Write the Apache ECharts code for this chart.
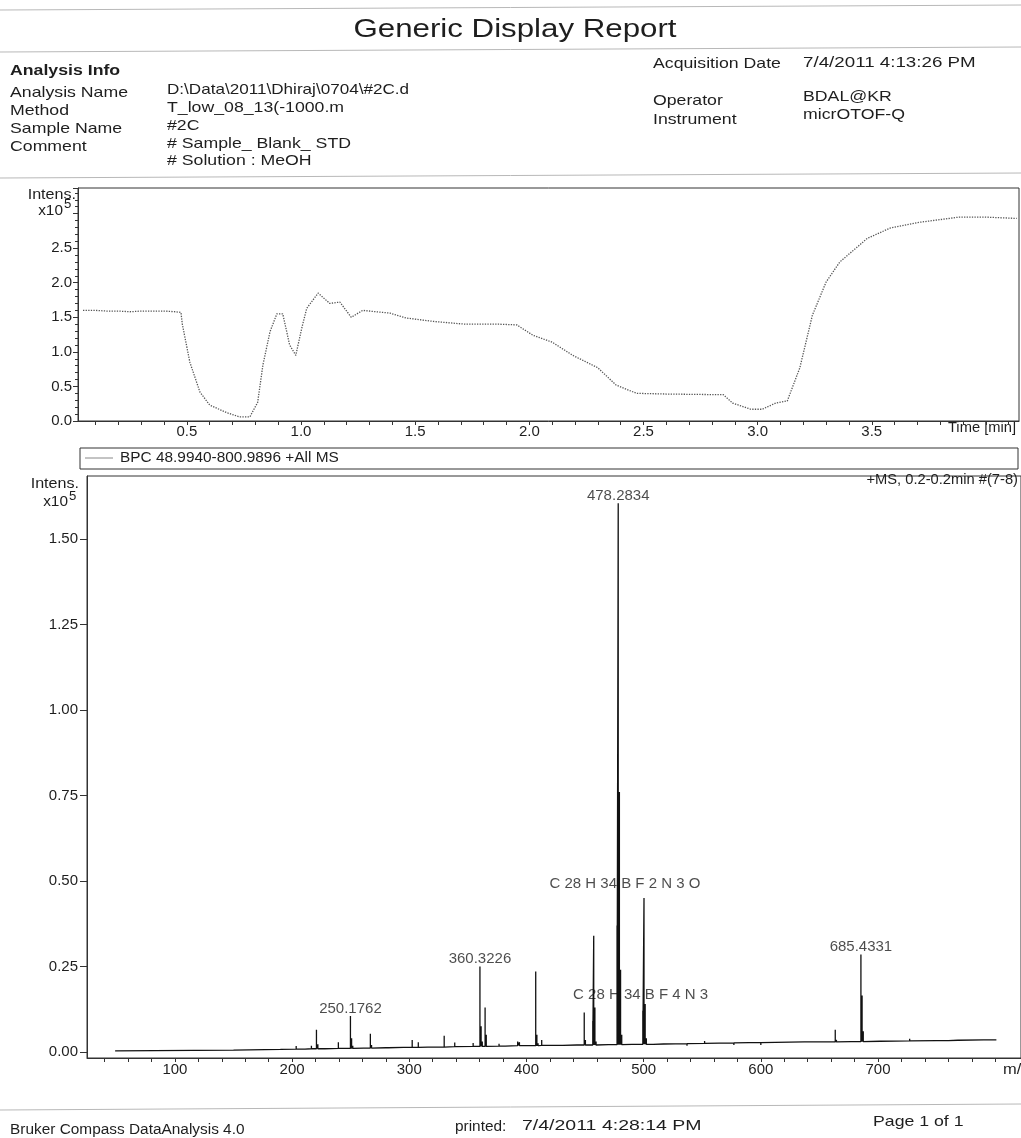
<!DOCTYPE html>
<html>
<head>
<meta charset="utf-8">
<title>Generic Display Report</title>
<script src="https://cdn.jsdelivr.net/npm/echarts@6/dist/echarts.min.js"></script>
<style>
html, body { margin: 0; padding: 0; background: #fff; }
#main { width: 1021px; height: 1138px; }
</style>
</head>
<body>
<div id="main"></div>
<script>
// BPC chromatogram: time [min] / intensity [x10^5]
var bpcTime = [0.045, 0.10, 0.15, 0.20, 0.25, 0.30, 0.35, 0.40, 0.45, 0.474, 0.48, 0.513, 0.557, 0.60, 0.675,
  0.73, 0.776, 0.81, 0.833, 0.864, 0.894, 0.92, 0.95, 0.977, 1.003, 1.025, 1.075, 1.126, 1.17, 1.22,
  1.27, 1.39, 1.46, 1.58, 1.72, 1.87, 1.945, 2.016, 2.10, 2.19, 2.30, 2.38, 2.47, 2.60, 2.85,
  2.89, 2.97, 3.02, 3.08, 3.13, 3.185, 3.24, 3.30, 3.36, 3.48, 3.58, 3.70, 3.885, 3.99, 4.135];
var bpcIntens = [1.60, 1.60, 1.59, 1.59, 1.58, 1.59, 1.59, 1.59, 1.58, 1.57, 1.40, 0.85, 0.42, 0.23, 0.12,
  0.06, 0.06, 0.27, 0.81, 1.29, 1.55, 1.55, 1.10, 0.95, 1.34, 1.63, 1.85, 1.70, 1.72, 1.50,
  1.60, 1.56, 1.49, 1.44, 1.40, 1.40, 1.39, 1.24, 1.14, 0.95, 0.77, 0.52, 0.40, 0.39, 0.38,
  0.26, 0.17, 0.17, 0.26, 0.29, 0.77, 1.53, 2.01, 2.30, 2.64, 2.79, 2.87, 2.95, 2.95, 2.93];

// mass spectrum sticks: m/z, top intensity, baseline level under the stick [x10^5]
var peakMz = [150, 190, 203.5, 207, 211, 216.5, 220.8, 222, 224, 228, 239.5, 244, 249.8, 250.8, 251.8,
  261, 266.8, 267.8, 280, 282, 295, 302.5, 307.7, 309, 316, 320, 326, 329.8, 338.8, 354.5,
  360.3, 361.3, 362.3, 364.7, 365.7, 376.6, 382, 392.5, 394, 407.9, 408.9, 409.9, 413, 422, 431,
  443, 449.3, 450.3, 456.6, 457.4, 458.4, 459.4, 470, 477.3, 478.3, 479.3, 480.3, 481.3, 490, 496,
  499.3, 500.3, 501.3, 502.3, 508, 517, 537, 552, 553, 577, 590, 600, 637, 639, 663.5, 664.5,
  677, 681, 685.4, 686.4, 687.4, 688.4, 702, 727, 750, 760, 768, 790];
var peakInt = [0.005, 0.007, 0.017, 0.012, 0.011, 0.018, 0.065, 0.022, 0.014, 0.013, 0.028, 0.013, 0.105, 0.040, 0.018,
  0.014, 0.053, 0.020, 0.013, 0.012, 0.014, 0.035, 0.028, 0.018, 0.016, 0.016, 0.018, 0.047, 0.027, 0.026,
  0.250, 0.075, 0.030, 0.130, 0.050, 0.024, 0.018, 0.030, 0.028, 0.235, 0.050, 0.025, 0.035, 0.020, 0.024,
  0.021, 0.115, 0.035, 0.090, 0.340, 0.130, 0.030, 0.022, 0.370, 1.605, 0.760, 0.240, 0.050, 0.024, 0.025,
  0.120, 0.450, 0.140, 0.040, 0.020, 0.018, 0.018, 0.032, 0.030, 0.020, 0.022, 0.020, 0.025, 0.025, 0.065, 0.035,
  0.030, 0.030, 0.285, 0.165, 0.060, 0.035, 0.034, 0.038, 0.037, 0.036, 0.036, 0.037];
var peakBase = [0.005, 0.007, 0.008, 0.008, 0.008, 0.009, 0.009, 0.009, 0.009, 0.009, 0.010, 0.010, 0.010, 0.010, 0.010,
  0.011, 0.011, 0.011, 0.012, 0.012, 0.013, 0.013, 0.013, 0.013, 0.014, 0.014, 0.014, 0.014, 0.015, 0.016,
  0.016, 0.016, 0.016, 0.016, 0.016, 0.017, 0.017, 0.018, 0.018, 0.018, 0.018, 0.018, 0.019, 0.019, 0.019,
  0.020, 0.020, 0.020, 0.020, 0.020, 0.020, 0.020, 0.021, 0.021, 0.021, 0.021, 0.021, 0.021, 0.022, 0.022,
  0.022, 0.022, 0.022, 0.022, 0.022, 0.023, 0.024, 0.025, 0.025, 0.026, 0.027, 0.027, 0.029, 0.029, 0.029, 0.029,
  0.030, 0.030, 0.030, 0.030, 0.030, 0.030, 0.031, 0.032, 0.033, 0.033, 0.034, 0.035];
var specStart = [49.0, 0.003];
var specEnd = [801.0, 0.035];

// peak annotations
var peakLabelMz = [478.3, 360.3, 249.8, 685.4];
var peakLabelInt = [1.605, 0.250, 0.105, 0.285];
var peakLabelText = ['478.2834', '360.3226', '250.1762', '685.4331'];
var formulaMz = [484, 497.4];
var formulaInt = [0.492, 0.167];
var formulaText = ['C 28 H 34 B F 2 N 3 O', 'C 28 H 34 B F 4 N 3'];

// axis ticks
var timeTicks = [0.1, 0.2, 0.3, 0.4, 0.5, 0.6, 0.7, 0.8, 0.9, 1.0, 1.1, 1.2, 1.3, 1.4, 1.5, 1.6, 1.7, 1.8, 1.9, 2.0,
  2.1, 2.2, 2.3, 2.4, 2.5, 2.6, 2.7, 2.8, 2.9, 3.0, 3.1, 3.2, 3.3, 3.4, 3.5, 3.6, 3.7, 3.8, 3.9, 4.0, 4.1];
var timeLabels = [0.5, 1.0, 1.5, 2.0, 2.5, 3.0, 3.5];
var mzTicks = [40, 60, 80, 100, 120, 140, 160, 180, 200, 220, 240, 260, 280, 300, 320, 340, 360, 380, 400,
  420, 440, 460, 480, 500, 520, 540, 560, 580, 600, 620, 640, 660, 680, 700, 720, 740, 760, 780, 800];
var mzLabels = [100, 200, 300, 400, 500, 600, 700];
var msLabels = [0.00, 0.25, 0.50, 0.75, 1.00, 1.25, 1.50];
var msMinorTicks = [0.05, 0.10, 0.15, 0.20, 0.30, 0.35, 0.40, 0.45, 0.55, 0.60, 0.65, 0.70, 0.80, 0.85, 0.90, 0.95,
  1.05, 1.10, 1.15, 1.20, 1.30, 1.35, 1.40, 1.45, 1.55, 1.60, 1.65];

var FONT = '"Liberation Sans", Arial, sans-serif';
var INK = '#1e1e1e';

var bpcData = bpcTime.map(function (t, i) { return [t, bpcIntens[i]]; });

var specData = [specStart];
peakMz.forEach(function (m, i) {
  specData.push([m, peakBase[i]]);
  specData.push([m, peakInt[i]]);
  specData.push([m, peakBase[i]]);
});
specData.push(specEnd);

var peakLabelData = peakLabelMz.map(function (m, i) { return [m, peakLabelInt[i], peakLabelText[i]]; });
var formulaData = formulaMz.map(function (m, i) { return [m, formulaInt[i], formulaText[i]]; });

function txt(x, y, s, size, opts) {
  opts = opts || {};
  return {
    type: 'text', x: x, y: y, scaleX: opts.sx || 1.18, silent: true,
    style: {
      text: s, fill: INK, textAlign: opts.align || 'left', textVerticalAlign: 'middle',
      font: (opts.bold ? 'bold ' : '') + size + 'px ' + FONT
    }
  };
}
function hline(x1, y1, x2, y2, color) {
  return { type: 'line', silent: true, shape: { x1: x1, y1: y1, x2: x2, y2: y2 },
    style: { stroke: color || '#b8b8b8', lineWidth: 1 } };
}

var myChart = echarts.init(document.getElementById('main'));

var axLine = { show: true, onZero: false, lineStyle: { color: '#333', width: 1 } };
var tickStyle = { color: '#333' };

myChart.setOption({
  animation: false,
  backgroundColor: '#fff',
  textStyle: { fontFamily: FONT },
  grid: [
    { left: 78, top: 188, width: 941, height: 233, show: true, borderColor: '#333', borderWidth: 1 },
    { left: 87, top: 476, width: 938, height: 582, show: true, borderColor: '#333', borderWidth: 1 }
  ],
  xAxis: [
    {
      type: 'value', gridIndex: 0, min: 0.023, max: 4.145,
      axisLine: axLine, splitLine: { show: false },
      axisTick: { show: true, length: 4, customValues: timeTicks, lineStyle: tickStyle },
      axisLabel: { color: INK, fontFamily: FONT, fontSize: 15, margin: 3, customValues: timeLabels,
        formatter: function (v) { return v.toFixed(1); } }
    },
    {
      type: 'value', gridIndex: 1, min: 25, max: 822,
      axisLine: axLine, splitLine: { show: false },
      axisTick: { show: true, length: 4, customValues: mzTicks, lineStyle: tickStyle },
      axisLabel: { color: INK, fontFamily: FONT, fontSize: 15, margin: 4, customValues: mzLabels }
    }
  ],
  yAxis: [
    {
      type: 'value', gridIndex: 0, min: 0, max: 3.37, interval: 0.5,
      axisLine: axLine, splitLine: { show: false },
      axisTick: { show: true, length: 5, lineStyle: tickStyle },
      minorTick: { show: true, splitNumber: 5, length: 3, lineStyle: tickStyle },
      axisLabel: { color: INK, fontFamily: FONT, fontSize: 15, margin: 6, showMaxLabel: false,
        formatter: function (v) { return v > 2.9 ? '' : v.toFixed(1); } }
    },
    {
      type: 'value', gridIndex: 1, min: -0.018, max: 1.685,
      axisLine: axLine, splitLine: { show: false },
      axisTick: { show: true, length: 7, customValues: msLabels, lineStyle: tickStyle },
      axisLabel: { color: INK, fontFamily: FONT, fontSize: 15, margin: 9, customValues: msLabels,
        formatter: function (v) { return v.toFixed(2); } }
    },
    {
      type: 'value', gridIndex: 1, min: -0.018, max: 1.685,
      axisLine: { show: false }, splitLine: { show: false },
      axisTick: { show: true, length: 3, customValues: msMinorTicks, lineStyle: tickStyle },
      axisLabel: { show: false }
    }
  ],
  series: [
    {
      name: 'BPC', type: 'line', xAxisIndex: 0, yAxisIndex: 0, data: bpcData,
      showSymbol: false, smooth: false,
      lineStyle: { color: '#555', width: 1.3, type: 'dotted' }
    },
    {
      name: '+MS', type: 'line', xAxisIndex: 1, yAxisIndex: 1, data: specData,
      showSymbol: false, lineStyle: { color: '#111', width: 1.3 }
    },
    {
      name: 'peak labels', type: 'scatter', xAxisIndex: 1, yAxisIndex: 1, data: peakLabelData,
      symbolSize: 0, itemStyle: { color: 'transparent' }, silent: true,
      label: { show: true, position: 'top', distance: 0, color: INK, fontFamily: FONT, fontSize: 15,
        formatter: function (p) { return p.value[2]; } }
    },
    {
      name: 'formula labels', type: 'scatter', xAxisIndex: 1, yAxisIndex: 1, data: formulaData,
      symbolSize: 0, itemStyle: { color: 'transparent' }, silent: true,
      label: { show: true, position: 'inside', color: INK, fontFamily: FONT, fontSize: 15,
        formatter: function (p) { return p.value[2]; } }
    }
  ],
  graphic: [
    hline(0, 10, 1021, 5),
    txt(515, 30, 'Generic Display Report', 25, { align: 'center', sx: 1.25 }),
    hline(0, 52, 1021, 47),
    txt(10, 71, 'Analysis Info', 15, { bold: true }),
    txt(10, 93, 'Analysis Name', 15),
    txt(10, 111, 'Method', 15),
    txt(10, 129, 'Sample Name', 15),
    txt(10, 147, 'Comment', 15),
    txt(167, 90, 'D:\\Data\\2011\\Dhiraj\\0704\\#2C.d', 15, { sx: 1.14 }),
    txt(167, 108, 'T_low_08_13(-1000.m', 15),
    txt(167, 126, '#2C', 15),
    txt(167, 144, '# Sample_ Blank_ STD', 15),
    txt(167, 161, '# Solution : MeOH', 15),
    txt(653, 64, 'Acquisition Date', 15),
    txt(803, 63, '7/4/2011 4:13:26 PM', 15, { sx: 1.25 }),
    txt(653, 101, 'Operator', 15),
    txt(653, 120, 'Instrument', 15),
    txt(803, 97, 'BDAL@KR', 15),
    txt(803, 115, 'micrOTOF-Q', 15),
    hline(0, 178, 1021, 173),
    // top chart labels
    txt(76, 195, 'Intens.', 14, { align: 'right', sx: 1.15 }),
    txt(63, 211, 'x10', 14, { align: 'right', sx: 1.1 }),
    txt(64, 205, '5', 12, { sx: 1.1 }),
    txt(1016, 428, 'Time [min]', 14, { align: 'right', sx: 1.05 }),
    // BPC legend box
    { type: 'rect', silent: true, shape: { x: 80, y: 448, width: 938, height: 21 },
      style: { fill: 'none', stroke: '#333', lineWidth: 1 } },
    hline(85, 458, 113, 458, '#888'),
    txt(120, 458, 'BPC 48.9940-800.9896 +All MS', 14, { sx: 1.1 }),
    // spectrum labels
    txt(1018, 480, '+MS, 0.2-0.2min #(7-8)', 14, { align: 'right', sx: 1.05 }),
    txt(79, 484, 'Intens.', 14, { align: 'right', sx: 1.15 }),
    txt(68, 502, 'x10', 14, { align: 'right', sx: 1.1 }),
    txt(69, 497, '5', 12, { sx: 1.1 }),
    txt(1003, 1070, 'm/z', 15, { sx: 1.1 }),
    // footer
    hline(0, 1110, 1021, 1104),
    txt(10, 1130, 'Bruker Compass DataAnalysis 4.0', 14, { sx: 1.1 }),
    txt(455, 1127, 'printed:', 14, { sx: 1.1 }),
    txt(522, 1126, '7/4/2011 4:28:14 PM', 15, { sx: 1.3 }),
    txt(873, 1122, 'Page 1 of 1', 15)
  ]
});

window.addEventListener('resize', function () {
  myChart.resize();
});
</script>
</body>
</html>
